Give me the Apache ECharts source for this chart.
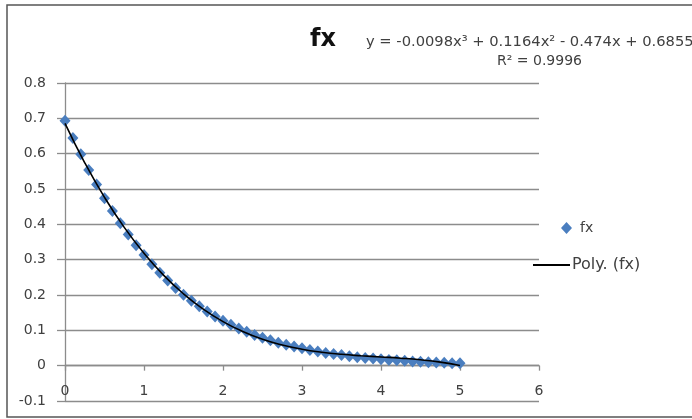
<!DOCTYPE html>
<html>
<head>
<meta charset="utf-8">
<script src="https://cdn.jsdelivr.net/npm/echarts@6/dist/echarts.min.js"></script>
<style>
html,body{margin:0;padding:0;background:#fff;}
#c{width:692px;height:419px;}
</style>
</head>
<body>
<div id="c"></div>
<script>
// x values of the data points
var xs = [0,0.1,0.2,0.3,0.4,0.5,0.6,0.7,0.8,0.9,1.0,1.1,1.2,1.3,1.4,1.5,1.6,1.7,1.8,1.9,2.0,
          2.1,2.2,2.3,2.4,2.5,2.6,2.7,2.8,2.9,3.0,3.1,3.2,3.3,3.4,3.5,3.6,3.7,3.8,3.9,4.0,
          4.1,4.2,4.3,4.4,4.5,4.6,4.7,4.8,4.9,5.0];
// fx values
var fx = [0.693,0.644,0.598,0.554,0.513,0.474,0.438,0.403,0.371,0.341,0.313,0.287,0.263,0.241,0.220,0.201,0.184,0.168,0.153,0.139,0.127,
          0.116,0.105,0.096,0.087,0.079,0.072,0.065,0.059,0.054,0.049,0.044,0.040,0.036,0.033,0.030,0.027,0.024,0.022,0.020,0.018,
          0.016,0.015,0.014,0.012,0.011,0.010,0.009,0.008,0.007,0.007];
// trendline (Poly. (fx)) sample points
var trendX = [0,0.25,0.5,0.75,1,1.25,1.5,1.75,2,2.25,2.5,2.75,3,3.25,3.5,3.75,4,4.25,4.5,4.75,5];
var trendY = [0.6855,0.5741,0.4764,0.3913,0.3181,0.2557,0.2033,0.1600,0.1247,0.0967,0.0749,0.0585,0.0465,0.0381,0.0322,0.0281,0.0247,0.0212,0.0166,0.0100,0.0005];
var titleText = 'fx';
var eqText = 'y = -0.0098x³ + 0.1164x² - 0.474x + 0.6855';
var r2Text = 'R² = 0.9996';

var pts = xs.map(function(x,i){return [x, fx[i]];});
var tpts = trendX.map(function(x,i){return [x, trendY[i]];});
var FONT = 'DejaVu Sans';
var GRID_TOP = 83, GRID_BOTTOM = 18, H = 419;
var yMin = -0.1, yMax = 0.8;
// shift the x axis up so it sits on y = 0 (Excel: horizontal axis crosses at 0)
var plotH = H - GRID_TOP - GRID_BOTTOM;
var zeroOffset = -plotH * (0 - yMin) / (yMax - yMin);
var chart = echarts.init(document.getElementById('c'));
chart.setOption({
  animation:false,
  textStyle:{fontFamily:FONT},
  grid:{left:65,right:153,top:GRID_TOP,bottom:GRID_BOTTOM,containLabel:false,outerBoundsMode:'none'},
  xAxis:{type:'value',min:0,max:6,interval:1,position:'bottom',offset:zeroOffset,
    axisLine:{show:true,onZero:false,lineStyle:{color:'#8c8c8c',width:1.3}},
    axisTick:{show:true,length:5,lineStyle:{color:'#8c8c8c',width:1.3}},
    axisLabel:{margin:19,fontSize:14,color:'#404040',fontFamily:FONT},
    splitLine:{show:false}},
  yAxis:{type:'value',min:yMin,max:yMax,interval:0.1,
    axisLine:{show:true,lineStyle:{color:'#8c8c8c',width:1.3}},
    axisTick:{show:true,length:8,lineStyle:{color:'#8c8c8c',width:1.3}},
    axisLabel:{margin:19,fontSize:14,color:'#404040',fontFamily:FONT,
      formatter:function(v){return (Math.round(v*10)/10).toString();}},
    splitLine:{show:true,lineStyle:{color:'#8c8c8c',width:1.3}}},
  legend:[
    {left:556,top:216,itemWidth:11,itemHeight:12,itemGap:0,
     textStyle:{fontSize:14,color:'#404040',fontFamily:FONT,padding:[0,0,0,3]},
     data:[{name:'fx',icon:'diamond'}]},
    {left:528,top:252,itemWidth:37,itemHeight:2,
     textStyle:{fontSize:16,color:'#404040',fontFamily:FONT,padding:[0,0,0,-3]},
     data:[{name:'Poly. (fx)',icon:'rect'}]}
  ],
  series:[
    {name:'fx',type:'scatter',data:pts,symbol:'diamond',symbolSize:[11,12],
     itemStyle:{color:'#4a7ebf',opacity:1},z:2},
    {name:'Poly. (fx)',type:'line',data:tpts,smooth:true,showSymbol:false,symbol:'none',
     lineStyle:{color:'#000',width:1.6},itemStyle:{color:'#000'},z:3}
  ],
  graphic:[
    {type:'rect',shape:{x:7,y:5,width:720,height:412},style:{fill:'none',stroke:'#555',lineWidth:1.5},silent:true},
    {type:'text',left:310,top:28,style:{text:titleText,font:'bold 24px '+FONT,fill:'#111'}},
    {type:'text',left:366,top:35,style:{text:eqText,font:'14.7px '+FONT,fill:'#404040'}},
    {type:'text',left:497,top:54,style:{text:r2Text,font:'14px '+FONT,fill:'#404040'}}
  ]
});
</script>
</body>
</html>
